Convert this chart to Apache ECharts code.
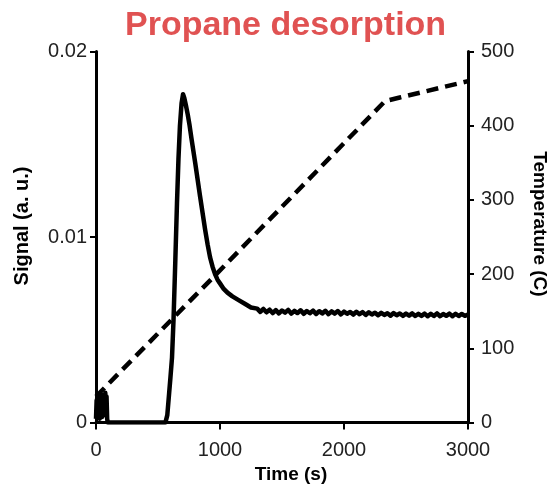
<!DOCTYPE html>
<html>
<head>
<meta charset="utf-8">
<script src="https://cdn.jsdelivr.net/npm/echarts@6/dist/echarts.min.js"></script>
<style>
html,body{margin:0;padding:0;background:#fff;}
#chart{width:553px;height:487px;}
</style>
</head>
<body>
<div id="chart"></div>
<script>
// ---- Data ----
const chartTitle = "Propane desorption";
const xAxisName = "Time (s)";
const leftAxisName = "Signal (a. u.)";
const rightAxisName = "Temperature (C)";

const xTicks = [0, 1000, 2000, 3000];
const xTickLabels = ["0", "1000", "2000", "3000"];
const signalTicks = [0, 0.01, 0.02];
const signalTickLabels = ["0", "0.01", "0.02"];
const tempTicks = [0, 100, 200, 300, 400, 500];

// Signal (solid line)
const signalTime = [
  0, 5, 10, 15, 20, 25, 30, 35, 40, 45, 50, 55, 60, 65, 70, 75, 80, 85, 90, 95,
  560, 575, 590, 600, 613, 625, 640, 653, 665, 677, 690, 702, 712, 725, 740, 755, 770,
  800, 839, 880, 900, 920, 940, 960, 980, 1000, 1030, 1060, 1100, 1150, 1200, 1250,
  1300, 1325, 1350, 1375, 1400, 1425, 1450, 1475, 1500, 1525, 1550, 1575, 1600, 1625, 1650, 1675,
  1700, 1725, 1750, 1775, 1800, 1825, 1850, 1875, 1900, 1925, 1950, 1975, 2000, 2025, 2050, 2075,
  2100, 2125, 2150, 2175, 2200, 2225, 2250, 2275, 2300, 2325, 2350, 2375, 2400, 2425, 2450, 2475,
  2500, 2525, 2550, 2575, 2600, 2625, 2650, 2675, 2700, 2725, 2750, 2775, 2800, 2825, 2850, 2875,
  2900, 2925, 2950, 2975, 3000
];
const signalValue = [
  0.0002, 0.0012, 0.0003, 0.0014, 0.0004, 0.0013, 0.0002, 0.0015, 0.0005, 0.0013,
  0.0003, 0.0014, 0.0006, 0.0015, 0.0004, 0.0016, 0.0005, 0.0014, 0.0002, 0.0000,
  0.0000, 0.0004, 0.0016, 0.0024, 0.0035, 0.0055, 0.0088, 0.0118, 0.0142, 0.0160, 0.0172, 0.0177, 0.0175, 0.0171, 0.0166, 0.0160, 0.0153,
  0.0140, 0.0122, 0.0104, 0.0096, 0.0089, 0.0084, 0.0080, 0.0077, 0.0075, 0.0072, 0.0070, 0.0068, 0.0066, 0.0064, 0.0062,
  0.00614, 0.00596, 0.00612, 0.00594, 0.00608, 0.00590, 0.00606, 0.00588, 0.00604, 0.00592, 0.00607, 0.00587, 0.00602, 0.00590, 0.00605, 0.00586,
  0.00601, 0.00589, 0.00603, 0.00585, 0.00600, 0.00588, 0.00602, 0.00584, 0.00599, 0.00587, 0.00601, 0.00583, 0.00598, 0.00586, 0.00596, 0.00582,
  0.00597, 0.00584, 0.00595, 0.00580, 0.00594, 0.00582, 0.00592, 0.00578, 0.00591, 0.00580, 0.00589, 0.00576, 0.00590, 0.00578, 0.00588, 0.00575,
  0.00587, 0.00576, 0.00588, 0.00574, 0.00586, 0.00575, 0.00587, 0.00573, 0.00586, 0.00574, 0.00588, 0.00573, 0.00585, 0.00575, 0.00587, 0.00573,
  0.00586, 0.00574, 0.00585, 0.00575, 0.00582
];

// Temperature (dashed line)
const tempTime = [0, 976, 2330, 2450, 3000];
const tempValue = [35, 201, 433, 438, 460];

// ---- Build chart ----
const signalData = signalTime.map((t, i) => [t, signalValue[i]]);
const tempData = tempTime.map((t, i) => [t, tempValue[i]]);

function lookup(ticks, labels) {
  return v => {
    const i = ticks.findIndex(s => Math.abs(s - v) < 1e-9);
    return i >= 0 ? labels[i] : '';
  };
}

const chart = echarts.init(document.getElementById('chart'), null, {renderer: 'canvas'});
const axisLineStyle = {color: '#000', width: 3};
const labelStyle = {color: '#222', fontSize: 20, fontFamily: 'Liberation Sans, Arial, sans-serif'};
const nameStyle = {color: '#000', fontSize: 19, fontWeight: 'bold', fontFamily: 'Liberation Sans, Arial, sans-serif'};

chart.setOption({
  animation: false,
  backgroundColor: '#fff',
  title: {
    text: chartTitle,
    left: 120,
    top: 4,
    textStyle: {color: '#e05252', fontSize: 34, fontWeight: 'bold', fontFamily: 'Liberation Sans, Arial, sans-serif'}
  },
  grid: {left: 96, right: 85, top: 51.5, bottom: 64.5, containLabel: false, outerBoundsMode: 'none'},
  xAxis: {
    type: 'value',
    min: xTicks[0], max: xTicks[xTicks.length - 1], interval: xTicks[1] - xTicks[0],
    name: xAxisName, nameLocation: 'middle', nameGap: 38,
    nameTextStyle: Object.assign({}, nameStyle, {padding: [0, 0, 0, 18]}),
    axisLine: {show: true, lineStyle: axisLineStyle},
    axisTick: {show: true, length: 7, lineStyle: {color: '#000', width: 2}},
    axisLabel: Object.assign({}, labelStyle, {margin: 18, formatter: lookup(xTicks, xTickLabels)}),
    splitLine: {show: false}
  },
  yAxis: [
    {
      type: 'value', position: 'left',
      min: signalTicks[0], max: signalTicks[signalTicks.length - 1], interval: signalTicks[1] - signalTicks[0],
      name: leftAxisName, nameLocation: 'middle', nameGap: 64, nameRotate: 90,
      nameTextStyle: Object.assign({}, nameStyle, {fontSize: 20, padding: [0, 0, 0, 22]}),
      axisLine: {show: true, lineStyle: axisLineStyle},
      axisTick: {show: true, length: 6, lineStyle: {color: '#000', width: 2}},
      axisLabel: Object.assign({}, labelStyle, {margin: 9, formatter: lookup(signalTicks, signalTickLabels)}),
      splitLine: {show: false}
    },
    {
      type: 'value', position: 'right',
      min: tempTicks[0], max: tempTicks[tempTicks.length - 1], interval: tempTicks[1] - tempTicks[0],
      name: rightAxisName, nameLocation: 'middle', nameGap: 62, nameRotate: -90,
      nameTextStyle: Object.assign({}, nameStyle, {fontSize: 19, padding: [0, 26, 0, 0]}),
      axisLine: {show: true, lineStyle: axisLineStyle},
      axisTick: {show: true, length: 6, lineStyle: {color: '#000', width: 2}},
      axisLabel: Object.assign({}, labelStyle, {margin: 13}),
      splitLine: {show: false}
    }
  ],
  series: [
    {
      name: 'Temperature', type: 'line', yAxisIndex: 1, data: tempData,
      showSymbol: false, symbol: 'none',
      lineStyle: {color: '#000', width: 4.5, type: [12, 7], cap: 'butt'}
    },
    {
      name: 'Signal', type: 'line', yAxisIndex: 0, data: signalData,
      showSymbol: false, symbol: 'none',
      lineStyle: {color: '#000', width: 4.5, join: 'round'}
    }
  ]
});
</script>
</body>
</html>
